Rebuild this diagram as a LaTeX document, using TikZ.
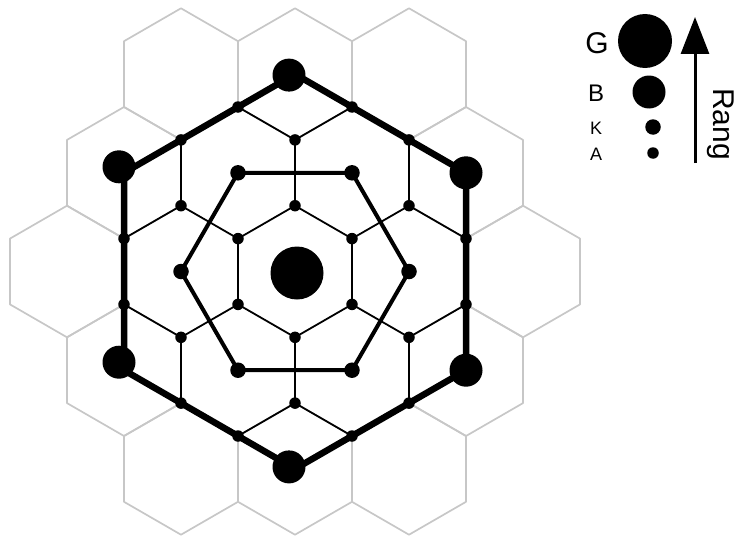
\documentclass[tikz,border=0pt]{standalone}
\usepackage{fontspec}
\setmainfont{Liberation Sans}
\usetikzlibrary{arrows.meta}
\begin{document}
\begin{tikzpicture}[x=1pt,y=-1pt,
  gridhex/.style={draw=black!22,line width=1.7pt,line join=round},
  thinline/.style={line width=1.8pt,line join=round},
  midline/.style={line width=4pt,line join=round},
  thickline/.style={line width=6.5pt,line join=round},
  adot/.style={circle,fill=black,inner sep=0pt,minimum size=11.5pt},
  kdot/.style={circle,fill=black,inner sep=0pt,minimum size=15.5pt},
  bdot/.style={circle,fill=black,inner sep=0pt,minimum size=33pt},
  gdot/.style={circle,fill=black,inner sep=0pt,minimum size=53pt},
  lbl/.style={inner sep=0pt,anchor=center}]
\useasboundingbox (0,0) rectangle (738,535);
\def\w{57}\def\h{32.9}
\begin{scope}[shift={(295,271.5)}]
% grey tiles (ring 2)
\foreach \cx/\cy in {-2/-6,0/-6,2/-6,-3/-3,3/-3,-4/0,4/0,-3/3,3/3,-2/6,0/6,2/6}{
  \draw[gridhex] (\cx*\w,\cy*\h-2*\h) -- ++(\w,\h) -- ++(0,2*\h) -- ++(-\w,\h) -- ++(-\w,-\h) -- ++(0,-2*\h) -- cycle;
}
% flower vertices
\coordinate (c1) at (0,-2*\h);
\coordinate (c2) at (\w,-\h);
\coordinate (c3) at (\w,\h);
\coordinate (c4) at (0,2*\h);
\coordinate (c5) at (-\w,\h);
\coordinate (c6) at (-\w,-\h);
\coordinate (s1) at (0,-4*\h);
\coordinate (s2) at (2*\w,-2*\h);
\coordinate (s3) at (2*\w,2*\h);
\coordinate (s4) at (0,4*\h);
\coordinate (s5) at (-2*\w,2*\h);
\coordinate (s6) at (-2*\w,-2*\h);
\coordinate (o1) at (\w,-5*\h);
\coordinate (o2) at (2*\w,-4*\h);
\coordinate (o3) at (3*\w,-\h);
\coordinate (o4) at (3*\w,\h);
\coordinate (o5) at (2*\w,4*\h);
\coordinate (o6) at (\w,5*\h);
\coordinate (o7) at (-\w,5*\h);
\coordinate (o8) at (-2*\w,4*\h);
\coordinate (o9) at (-3*\w,\h);
\coordinate (o10) at (-3*\w,-\h);
\coordinate (o11) at (-2*\w,-4*\h);
\coordinate (o12) at (-\w,-5*\h);
% K places
\coordinate (k1) at (-\w,-3*\h);
\coordinate (k2) at (\w,-3*\h);
\coordinate (k3) at (2*\w,0);
\coordinate (k4) at (\w,3*\h);
\coordinate (k5) at (-\w,3*\h);
\coordinate (k6) at (-2*\w,0);
% B places (corners of the market area)
\coordinate (t1) at (0,-6*\h);
\coordinate (t2) at (3*\w,-3*\h);
\coordinate (t3) at (3*\w,3*\h);
\coordinate (t4) at (0,6*\h);
\coordinate (t5) at (-3*\w,3*\h);
\coordinate (t6) at (-3*\w,-3*\h);
% thin lines
\draw[thinline] (c1)--(c2)--(c3)--(c4)--(c5)--(c6)--cycle;
\foreach \i in {1,...,6}{\draw[thinline] (c\i)--(s\i);}
\draw[thinline] (s1)--(o1)--(o2)--(s2)--(o3)--(o4)--(s3)--(o5)--(o6)--(s4)--(o7)--(o8)--(s5)--(o9)--(o10)--(s6)--(o11)--(o12)--cycle;
% medium hexagon
\draw[midline] (k1)--(k2)--(k3)--(k4)--(k5)--(k6)--cycle;
% thick hexagon
\draw[thickline] (t1)--(t2)--(t3)--(t4)--(t5)--(t6)--cycle;
% dots
\foreach \n in {c1,c2,c3,c4,c5,c6,s1,s2,s3,s4,s5,s6,o1,o2,o3,o4,o5,o6,o7,o8,o9,o10,o11,o12}{
  \node[adot] (A-\n) at (\n) {};
}
\foreach \i in {1,...,6}{\node[kdot] (K-\i) at (k\i) {};}
\node[bdot,xshift=-6pt,yshift=-1pt] (B-1) at (t1) {};
\node[bdot] (B-2) at (t2) {};
\node[bdot] (B-3) at (t3) {};
\node[bdot,xshift=-6pt,yshift=2pt] (B-4) at (t4) {};
\node[bdot,xshift=-5pt,yshift=8pt] (B-5) at (t5) {};
\node[bdot,xshift=-5pt,yshift=6pt] (B-6) at (t6) {};
\node[gdot] (G-0) at (2,1.5) {};
\end{scope}
% legend
\node[lbl,font=\fontsize{30}{30}\selectfont] (lG) at (597,43) {G};
\node[lbl,font=\fontsize{24}{24}\selectfont] (lB) at (596,93) {B};
\node[lbl,font=\fontsize{18}{18}\selectfont] (lK) at (596,128) {K};
\node[lbl,font=\fontsize{18}{18}\selectfont] (lA) at (596,154) {A};
\node[gdot,minimum size=54pt] (dG) at (645,41) {};
\node[bdot] (dB) at (649,92) {};
\node[kdot] (dK) at (653,127) {};
\node[adot] (dA) at (653,153) {};
\coordinate (arrS) at (695,163);
\coordinate (arrE) at (695,17);
\draw[line width=3pt,-{Triangle[width=28pt,length=37pt]}] (arrS) -- (arrE);
\node[lbl,rotate=-90,font=\fontsize{30}{30}\selectfont] (rang) at (721,124) {Rang};
\end{tikzpicture}
\end{document}
